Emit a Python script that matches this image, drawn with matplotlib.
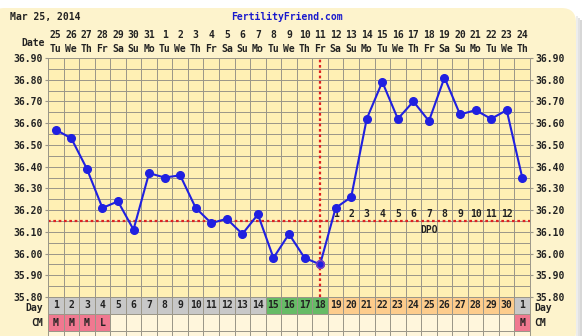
import matplotlib
matplotlib.use("Agg")
import matplotlib.pyplot as plt
from matplotlib.patches import FancyBboxPatch, Rectangle
from matplotlib.transforms import blended_transform_factory

# ---- chart data -------------------------------------------------------
dates = [25, 26, 27, 28, 29, 30, 31] + list(range(1, 25))
weekdays = ["Tu", "We", "Th", "Fr", "Sa", "Su", "Mo"] * 5
weekdays = weekdays[:31]
cycle_days = list(range(1, 31)) + [1]
temps = [36.57, 36.53, 36.39, 36.21, 36.24, 36.11, 36.37, 36.35, 36.36, 36.21,
         36.14, 36.16, 36.09, 36.18, 35.98, 36.09, 35.98, 35.95, 36.21, 36.26,
         36.62, 36.79, 36.62, 36.70, 36.61, 36.81, 36.64, 36.66, 36.62, 36.66,
         36.35]
cm_marks = ["M", "M", "M", "L"] + [""] * 26 + ["M"]
coverline = 36.15
ovulation_day = 18
dpo_labels = [str(i) for i in range(1, 13)]
y_ticks = [35.80, 35.90, 36.00, 36.10, 36.20, 36.30, 36.40, 36.50, 36.60,
           36.70, 36.80, 36.90]
header_date = "Mar 25, 2014"
site_name = "FertilityFriend.com"

# ---- styling ----------------------------------------------------------
W, H = 583, 336
PANEL = "#fdf3cc"
PLOT_BG = "#fff0b4"
GRID = "#9a9688"
LINE = "#2020e0"
RED = "#dd2222"
FONT = dict(family="DejaVu Sans Mono", fontweight="bold", fontsize=7,
            color="#222222")

fig = plt.figure(figsize=(W / 100, H / 100), dpi=100)
fig.patch.set_facecolor("white")

# drop shadow and rounded panel
for i, a in enumerate([0.12, 0.2, 0.28]):
    fig.patches.append(Rectangle(((576 + i * 2) / W, 0), 2 / W, (H - 16 - i * 2) / H,
                                 transform=fig.transFigure, facecolor="#707070",
                                 alpha=a, edgecolor="none", zorder=-2))
fig.patches.append(FancyBboxPatch((-10 / W, -10 / H), (586 / W), (H + 2) / H,
                                  boxstyle="round,pad=0,rounding_size=0.025",
                                  transform=fig.transFigure, facecolor=PANEL,
                                  edgecolor="none", zorder=-1,
                                  mutation_aspect=W / H))

x0, x1, ytop, ybot = 48, 530, 58, 297
ax = fig.add_axes([x0 / W, 1 - ybot / H, (x1 - x0) / W, (ybot - ytop) / H])
ax.set_zorder(2)
ax.set_facecolor(PLOT_BG)
ax.set_xlim(0.5, 31.5)
ax.set_ylim(35.80, 36.90)
for s in ax.spines.values():
    s.set_color(GRID)
    s.set_linewidth(0.7)

# grid
for k in range(32):
    ax.axvline(0.5 + k, color=GRID, lw=0.7, zorder=1)
yv = 35.80
while yv < 36.92:
    ax.axhline(yv, color=GRID, lw=0.7, zorder=1)
    yv += 0.05

ax.set_xticks([])
ax.set_yticks(y_ticks)
ax.set_yticklabels([f"{v:.2f}" for v in y_ticks])
ax.tick_params(axis="y", which="both", left=True, right=True, length=2,
               color=GRID, labelleft=True, labelright=True, pad=2)
for t in ax.yaxis.get_major_ticks():
    for lab in (t.label1, t.label2):
        lab.set_fontfamily(FONT["family"])
        lab.set_fontweight("bold")
        lab.set_fontsize(7)
        lab.set_color("#222222")

days = list(range(1, 32))

# coverline and ovulation line
ax.axhline(coverline, color=RED, lw=1.6, ls=(0, (1.2, 1.2)), zorder=2)
ax.axvline(ovulation_day, color=RED, lw=1.6, ls=(0, (1.2, 1.2)), zorder=2)

# temperature curve
ax.plot(days, temps, color=LINE, lw=1.5, marker="o", ms=5.5, mfc=LINE,
        mec=LINE, zorder=4)
ov = days.index(ovulation_day)
ax.plot([days[ov]], [temps[ov]], marker="o", ms=5.5, mfc=LINE, mec="#8040c0",
        mew=1.0, zorder=5, ls="none")

# DPO labels
for i, lab in enumerate(dpo_labels):
    ax.text(ovulation_day + 1 + i, 36.183, lab, ha="center", va="center",
            zorder=3, **FONT)
ax.text(25, 36.107, "DPO", ha="center", va="center", zorder=3, **FONT)

# header rows (date and weekday)
bt = blended_transform_factory(ax.transData, ax.transAxes)
ah = ybot - ytop


def frac(py):
    return (ybot - py) / ah


for d, dt, wd in zip(days, dates, weekdays):
    ax.text(d, frac(35), str(dt), ha="center", va="center", transform=bt,
            clip_on=False, **FONT)
    ax.text(d, frac(49), wd, ha="center", va="center", transform=bt,
            clip_on=False, **FONT)
ax.text(0.3, frac(43), "Date", ha="right", va="center", transform=bt,
        clip_on=False, **FONT)

fig.text(10 / W, 1 - 17 / H, header_date, ha="left", va="center",
         family=FONT["family"], fontweight="bold", fontsize=7, color="#222222")
fig.text(287 / W, 1 - 17 / H, site_name, ha="center", va="center",
         family=FONT["family"], fontweight="bold", fontsize=7, color="#1a1acc")

# day / CM rows below the plot
rows = [(297, 314), (314, 331), (331, 348)]
for d, cd, cm in zip(days, cycle_days, cm_marks):
    if 15 <= cd <= 18 and d < 31:
        c = "#66bb66"
    elif cd >= 19 and d < 31:
        c = "#fdcc8c"
    else:
        c = "#c8c8c8"
    y_a, y_b = rows[0]
    ax.add_patch(Rectangle((d - 0.5, frac(y_b)), 1, (y_b - y_a) / ah,
                           transform=bt, facecolor=c, edgecolor=GRID, lw=0.7,
                           clip_on=False, zorder=1))
    ax.text(d, frac((y_a + y_b) / 2), str(cd), ha="center", va="center",
            transform=bt, clip_on=False, **FONT)
    y_a, y_b = rows[1]
    ax.add_patch(Rectangle((d - 0.5, frac(y_b)), 1, (y_b - y_a) / ah,
                           transform=bt, facecolor="#f07890" if cm else "#fff6dc",
                           edgecolor=GRID, lw=0.7, clip_on=False, zorder=1))
    if cm:
        ax.text(d, frac((y_a + y_b) / 2), cm, ha="center", va="center",
                transform=bt, clip_on=False, **FONT)
    y_a, y_b = rows[2]
    ax.add_patch(Rectangle((d - 0.5, frac(y_b)), 1, (y_b - y_a) / ah,
                           transform=bt, facecolor="#fff6dc",
                           edgecolor=GRID, lw=0.7, clip_on=False, zorder=1))

for name, py in [("Day", 308), ("CM", 323)]:
    ax.text(0.2, frac(py), name, ha="right", va="center",
            transform=bt, clip_on=False, **FONT)
    ax.text(31.75, frac(py), name, ha="left", va="center",
            transform=bt, clip_on=False, **FONT)

fig.savefig("out.png", dpi=100, facecolor=fig.get_facecolor())
